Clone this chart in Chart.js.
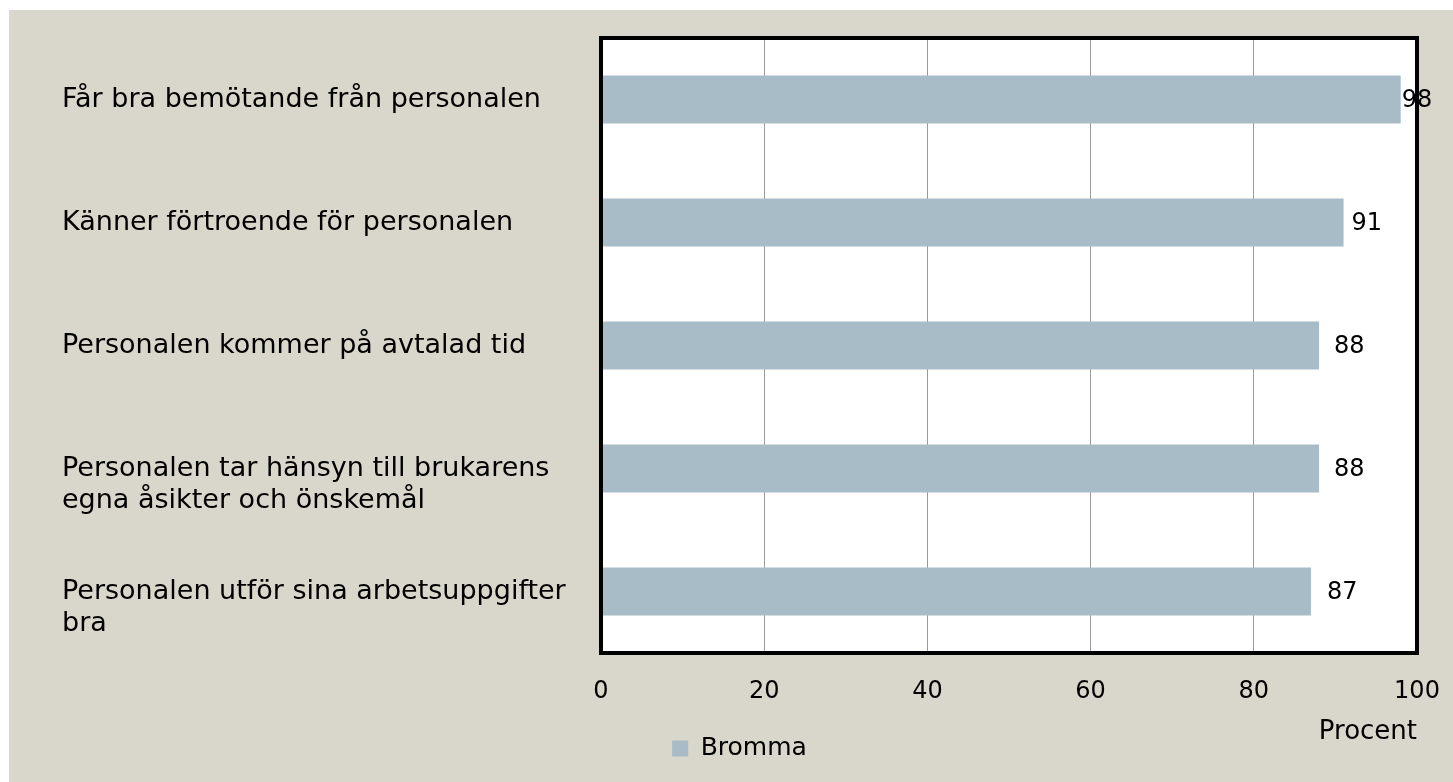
<!DOCTYPE html>
<html><head><meta charset="utf-8">
<script src="https://cdn.jsdelivr.net/npm/chart.js@4.4.0/dist/chart.umd.min.js"></script>
<style>
html,body{margin:0;padding:0;background:#fff;}
#wrap{position:absolute;left:9px;top:10px;width:1444px;height:772px;background:#d9d7cb;}
canvas{display:block;}
</style></head><body>
<div id="wrap"><canvas id="c"></canvas></div>
<script>
const categories = [
  ["Får bra bemötande från personalen"],
  ["Känner förtroende för personalen"],
  ["Personalen kommer på avtalad tid"],
  ["", "Personalen tar hänsyn till brukarens", "egna åsikter och önskemål"],
  ["", "Personalen utför sina arbetsuppgifter", "bra"]
];
const seriesName = "Bromma";
const values = [98, 91, 88, 88, 87];
const xTickValues = [0, 20, 40, 60, 80, 100];
const axisTitle = "Procent";

const FONT = "'DejaVu Sans', sans-serif";

const plotBgPlugin = {
  id: 'plotBg',
  beforeDraw(chart) {
    const {ctx, chartArea: a} = chart;
    ctx.save();
    ctx.fillStyle = '#ffffff';
    ctx.fillRect(a.left, a.top, a.right - a.left, a.bottom - a.top);
    ctx.restore();
  }
};

const framePlugin = {
  id: 'frameAndLabels',
  afterDatasetsDraw(chart, args, opts) {
    const {ctx, chartArea: a} = chart;
    ctx.save();
    ctx.lineWidth = 4;
    ctx.strokeStyle = '#000';
    ctx.strokeRect(a.left, a.top, a.right - a.left, a.bottom - a.top);
    const meta = chart.getDatasetMeta(0);
    ctx.fillStyle = '#000';
    ctx.font = "24px " + FONT;
    ctx.textAlign = 'left';
    ctx.textBaseline = 'middle';
    meta.data.forEach((bar, i) => {
      const off = (opts.offsets && opts.offsets[i]) || 0;
      ctx.fillText(String(values[i]), bar.x + off, bar.y + 1);
    });
    ctx.restore();
  }
};

new Chart(document.getElementById('c'), {
  type: 'bar',
  data: {
    labels: categories,
    datasets: [{
      label: seriesName,
      data: values,
      backgroundColor: '#a7bcc6',
      borderWidth: 0,
      barPercentage: 1,
      categoryPercentage: 0.39
    }]
  },
  options: {
    indexAxis: 'y',
    responsive: true,
    maintainAspectRatio: false,
    animation: false,
    layout: { padding: { left: 53, top: 28, right: 36, bottom: 11 } },
    scales: {
      x: {
        min: 0, max: 100,
        afterBuildTicks(scale) { scale.ticks = xTickValues.map(v => ({value: v})); },
        afterFit(scale) { scale.height = 73; scale.paddingLeft = 0; scale.paddingRight = 0; },
        grid: { color: '#9a9a9a', lineWidth: 1, drawTicks: false },
        border: { display: false },
        ticks: { padding: 24, color: '#000', font: { family: FONT, size: 24 } },
        title: {
          display: true, text: axisTitle, align: 'end', color: '#000',
          font: { family: FONT, size: 26 },
          padding: { top: 0, bottom: -22 }
        }
      },
      y: {
        afterFit(scale) { scale.width = 539; scale.paddingTop = 0; scale.paddingBottom = 0; },
        grid: { display: false },
        border: { display: false },
        ticks: {
          crossAlign: 'far', color: '#000', autoSkip: false,
          font: { family: FONT, size: 27, lineHeight: 1.22 }
        }
      }
    },
    plugins: {
      legend: {
        position: 'bottom',
        labels: {
          boxWidth: 16, boxHeight: 16, padding: 10, color: '#000',
          font: { family: FONT, size: 25 }
        }
      },
      tooltip: { enabled: false },
      frameAndLabels: { offsets: [1, 8, 15, 15, 16] }
    }
  },
  plugins: [plotBgPlugin, framePlugin]
});
</script>
</body></html>
